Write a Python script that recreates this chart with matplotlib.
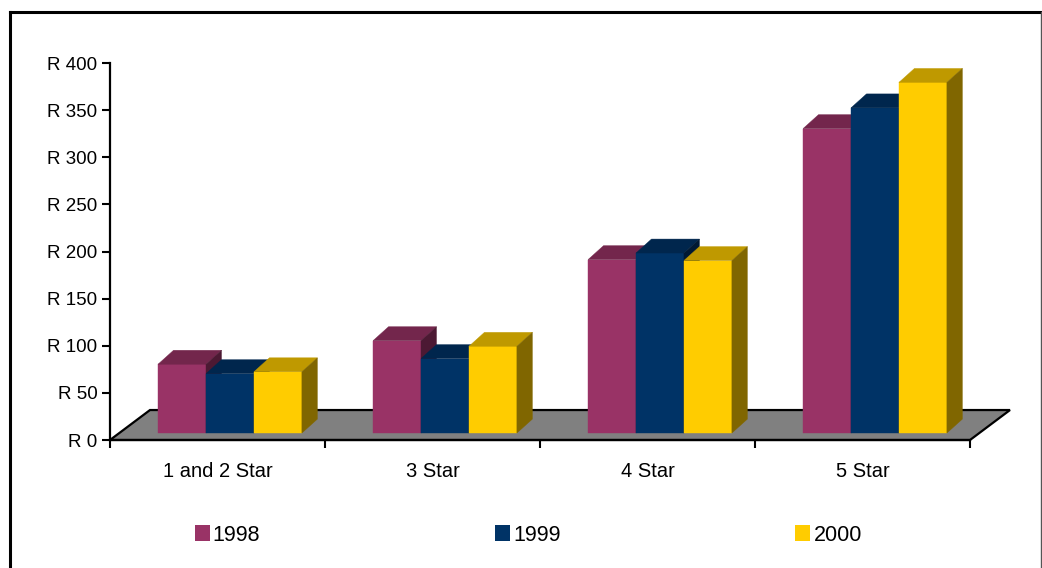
import matplotlib
matplotlib.use("Agg")
import matplotlib.pyplot as plt
from matplotlib.patches import Polygon, Patch
from matplotlib.lines import Line2D

# Average room rates by hotel grading
categories = ["1 and 2 Star", "3 Star", "4 Star", "5 Star"]
years = ["1998", "1999", "2000"]
rates_1998 = [73, 98, 184, 323]
rates_1999 = [63, 79, 191, 345]
rates_2000 = [65, 92, 183, 372]
y_ticks = [0, 50, 100, 150, 200, 250, 300, 350, 400]
y_labels = ["R " + str(t) for t in y_ticks]

series = [rates_1998, rates_1999, rates_2000]
front_colors = ["#993366", "#003366", "#FFCC00"]
top_colors = ["#73264C", "#00264D", "#BF9900"]
side_colors = ["#4C1933", "#001933", "#806600"]

plt.rcParams["font.family"] = ["Liberation Sans", "DejaVu Sans"]

fig = plt.figure(figsize=(10.42, 5.68), dpi=100)
ax = fig.add_axes([0.10557, 0.22535, 0.82534, 0.66373])
ax.set_xlim(0, len(categories))
ax.set_ylim(0, 400)

# fake 3d geometry, in data units
floor_dx, floor_dy = 0.186, 31.8
bar_off_x, bar_off_y = 0.058, 7.4
bar_dx, bar_dy = 0.072, 14.8
bar_w = 0.223

# grey floor
floor = Polygon([(0, 0), (len(categories), 0),
                 (len(categories) + floor_dx, floor_dy), (floor_dx, floor_dy)],
                closed=True, facecolor="#808080", edgecolor="black",
                linewidth=1.6, clip_on=False, zorder=1)
ax.add_patch(floor)


def box(x0, h, k, z):
    x1 = x0 + bar_w
    b = bar_off_y
    t = b + h
    faces = [
        ([(x0, b), (x1, b), (x1, t), (x0, t)], front_colors[k]),
        ([(x0, t), (x1, t), (x1 + bar_dx, t + bar_dy), (x0 + bar_dx, t + bar_dy)], top_colors[k]),
        ([(x1, b), (x1 + bar_dx, b + bar_dy), (x1 + bar_dx, t + bar_dy), (x1, t)], side_colors[k]),
    ]
    for pts, col in faces:
        ax.add_patch(Polygon(pts, closed=True, facecolor=col, edgecolor=col, linewidth=0.3,
                             clip_on=False, zorder=z))


z = 2
for i in range(len(categories)):
    left = i + (1 - 3 * bar_w) / 2 + bar_off_x
    for k, vals in enumerate(series):
        box(left + k * bar_w, vals[i], k, z)
        z += 1

# axes styling
for s in ["top", "right"]:
    ax.spines[s].set_visible(False)
for s in ["left", "bottom"]:
    ax.spines[s].set_linewidth(1.6)
    ax.spines[s].set_zorder(50)

ax.set_yticks(y_ticks)
ax.set_yticklabels(y_labels)
ax.tick_params(axis="y", direction="out", length=6, width=1.5, pad=3, labelsize=13.5)

ax.set_xticks(range(len(categories) + 1))
ax.set_xticklabels([])
ax.set_xticks([i + 0.5 for i in range(len(categories))], minor=True)
ax.set_xticklabels(categories, minor=True)
ax.tick_params(axis="x", which="major", direction="out", length=6, width=1.5)
ax.tick_params(axis="x", which="minor", length=0, pad=16, labelsize=14.5)

# legend along the bottom
handles = [Patch(facecolor=c, edgecolor="none") for c in front_colors]
fig.legend(handles, years, ncol=3, loc="center", bbox_to_anchor=(0.507, 0.058),
           frameon=False, fontsize=15.5, handlelength=0.7, handleheight=0.8,
           handletextpad=0.15, columnspacing=10.9)

# outer chart frame
fig.add_artist(Line2D([10 / 1042, 10 / 1042], [0, 1 - 12 / 568], color="black", lw=2.2,
                      transform=fig.transFigure))
fig.add_artist(Line2D([10 / 1042, 1040.5 / 1042], [1 - 12 / 568, 1 - 12 / 568], color="black",
                      lw=2.2, transform=fig.transFigure))
fig.add_artist(Line2D([1040.5 / 1042, 1040.5 / 1042], [0, 1 - 12 / 568], color="#555555", lw=1,
                      transform=fig.transFigure))

fig.savefig("out.png", dpi=100)
